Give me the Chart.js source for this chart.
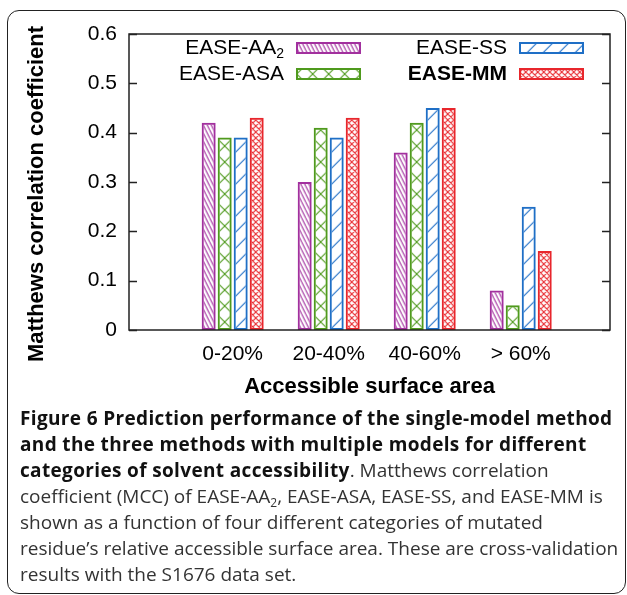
<!DOCTYPE html>
<html>
<head>
<meta charset="utf-8">
<script src="https://cdn.jsdelivr.net/npm/chart.js@4.4.1/dist/chart.umd.min.js"></script>
<style>
    html, body { margin: 0; padding: 0; background: #fff; }
    body { width: 627px; height: 595px; position: relative; overflow: hidden; }
    #frame {
        position: absolute; left: 7px; top: 10px; width: 619px; height: 584px;
        box-sizing: border-box; border: 1.5px solid #222; border-radius: 12px;
    }
    #chart-box { position: absolute; left: 0; top: 0; width: 627px; height: 410px; }
    #caption {
        position: absolute; left: 20px; top: 405px; white-space: nowrap;
        font-family: "Open Sans", sans-serif; font-size: 19px; line-height: 26px; color: #333;
    }
    #caption b { color: #111; letter-spacing: 0.35px; }
    #caption sub { font-size: 12px; line-height: 0; vertical-align: -4px; }
</style>
</head>
<body>
<div id="frame"></div>
<div id="chart-box"><canvas id="chart"></canvas></div>
<div id="caption">
    <b>Figure 6 Prediction performance of the single-model method</b><br>
    <b>and the three methods with multiple models for different</b><br>
    <b>categories of solvent accessibility</b>. Matthews correlation<br>
    coefficient (MCC) of EASE-AA<sub>2</sub>, EASE-ASA, EASE-SS, and EASE-MM is<br>
    shown as a function of four different categories of mutated<br>
    residue’s relative accessible surface area. These are cross-validation<br>
    results with the S1676 data set.
</div>

<script>
// Dados
const categories = ['0-20%', '20-40%', '40-60%', '> 60%'];
const methodNames = ['EASE-AA_2', 'EASE-ASA', 'EASE-SS', 'EASE-MM'];
const easeAA2 = [0.42, 0.30, 0.36, 0.08];
const easeASA = [0.39, 0.41, 0.42, 0.05];
const easeSS = [0.39, 0.39, 0.45, 0.25];
const easeMM = [0.43, 0.43, 0.45, 0.16];
const yTicks = [0, 0.1, 0.2, 0.3, 0.4, 0.5, 0.6];

const FONT = "'Liberation Sans', Arial, sans-serif";

// Padrões de preenchimento (hachuras)
function makePattern(color, w, h, draw) {
    const c = document.createElement('canvas');
    c.width = w;
    c.height = h;
    const g = c.getContext('2d');
    g.strokeStyle = color;
    g.lineWidth = 1.1;
    g.beginPath();
    draw(g, w, h);
    g.stroke();
    return g.createPattern(c, 'repeat');
}

function backDiag(g, w, h) {
    for (let k = -1; k <= 1; k++) {
        g.moveTo(k * w, 0);
        g.lineTo(k * w + w, h);
    }
}

function fwdDiag(g, w, h) {
    for (let k = -1; k <= 1; k++) {
        g.moveTo(k * w, h);
        g.lineTo(k * w + w, 0);
    }
}

function cross(g, w, h) {
    backDiag(g, w, h);
    fwdDiag(g, w, h);
}

const colors = ['#a2309e', '#4f9a1d', '#1f6fc6', '#e8262c'];
const patterns = [
    makePattern(colors[0], 4, 8, backDiag),
    makePattern(colors[1], 16, 16, cross),
    makePattern(colors[2], 16, 16, fwdDiag),
    makePattern(colors[3], 6, 6, cross)
];
const seriesList = [easeAA2, easeASA, easeSS, easeMM];

// Alinha as hachuras com a borda esquerda das barras
const patternAlign = {
    id: 'patternAlign',
    beforeDatasetsDraw(chart) {
        chart.data.datasets.forEach((ds, i) => {
            const el = chart.getDatasetMeta(i).data[0];
            if (!el) return;
            const left = el.x - el.width / 2;
            const shift = (i === 1) ? el.x - 8 : left;
            ds.backgroundColor.setTransform(new DOMMatrix().translate(shift, chart.chartArea.bottom));
        });
    }
};

// Moldura, marcas internas, títulos e legenda
const decorations = {
    id: 'decorations',
    afterDraw(chart) {
        const ctx = chart.ctx;
        const area = chart.chartArea;
        const y = chart.scales.y;
        ctx.save();

        ctx.strokeStyle = '#222';
        ctx.lineWidth = 1.5;
        ctx.strokeRect(area.left, area.top, area.right - area.left, area.bottom - area.top);
        ctx.beginPath();
        yTicks.forEach(v => {
            const py = Math.round(y.getPixelForValue(v)) + 0.5;
            ctx.moveTo(area.left, py);
            ctx.lineTo(area.left + 8, py);
            ctx.moveTo(area.right, py);
            ctx.lineTo(area.right - 8, py);
        });
        ctx.stroke();

        ctx.fillStyle = '#000';
        ctx.font = 'bold 22px ' + FONT;
        ctx.textAlign = 'center';
        ctx.textBaseline = 'middle';
        ctx.fillText('Accessible surface area', (area.left + area.right) / 2, 387);

        ctx.save();
        ctx.translate(37, 194);
        ctx.rotate(-Math.PI / 2);
        ctx.fillText('Matthews correlation coefficient', 0, 0);
        ctx.restore();

        // Legenda em duas colunas
        const textRight = [284, 507];
        const boxLeft = [297, 520];
        const rowY = [48, 74];
        chart.data.datasets.forEach((ds, i) => {
            const col = Math.floor(i / 2);
            const row = i % 2;
            const parts = ds.label.split('_');
            const bold = ds.label === 'EASE-MM';
            ctx.textAlign = 'right';
            ctx.textBaseline = 'middle';
            ctx.fillStyle = '#000';
            let xr = textRight[col];
            if (parts[1]) {
                ctx.font = '14px ' + FONT;
                ctx.fillText(parts[1], xr, rowY[row] + 6);
                xr -= ctx.measureText(parts[1]).width;
            }
            ctx.font = (bold ? 'bold ' : '') + '21px ' + FONT;
            ctx.fillText(parts[0], xr, rowY[row]);

            const bx = boxLeft[col];
            const by = rowY[row] - 5;
            ctx.fillStyle = ds.backgroundColor;
            ctx.fillRect(bx, by, 63, 10);
            ctx.strokeStyle = ds.borderColor;
            ctx.lineWidth = 2;
            ctx.strokeRect(bx, by, 63, 10);
        });

        ctx.restore();
    }
};

new Chart(document.getElementById('chart'), {
    type: 'bar',
    data: {
        datasets: methodNames.map((name, i) => ({
            label: name,
            data: seriesList[i].map((v, j) => ({ x: j, y: v })),
            backgroundColor: patterns[i],
            borderColor: colors[i],
            borderWidth: 2,
            borderSkipped: false,
            categoryPercentage: 0.667,
            barPercentage: 0.875
        }))
    },
    options: {
        responsive: true,
        maintainAspectRatio: false,
        animation: false,
        layout: { padding: { left: 0, top: 34, right: 17, bottom: 8 } },
        plugins: {
            legend: { display: false },
            tooltip: { enabled: false }
        },
        scales: {
            x: {
                type: 'linear',
                min: -1.08,
                max: 3.93,
                offset: false,
                grid: { display: false, drawTicks: false },
                border: { display: false },
                afterBuildTicks(scale) {
                    scale.ticks = categories.map((c, i) => ({ value: i }));
                },
                afterFit(scale) { scale.height = 72; },
                ticks: {
                    padding: 12,
                    color: '#000',
                    font: { family: FONT, size: 21 },
                    callback: value => categories[value]
                }
            },
            y: {
                min: 0,
                max: 0.6,
                grid: { display: false, drawTicks: false },
                border: { display: false },
                afterBuildTicks(scale) {
                    scale.ticks = yTicks.map(v => ({ value: v }));
                },
                afterFit(scale) { scale.width = 129; },
                ticks: {
                    padding: 12,
                    color: '#000',
                    font: { family: FONT, size: 21 },
                    callback: value => value === 0 ? '0' : value.toFixed(1)
                }
            }
        }
    },
    plugins: [patternAlign, decorations]
});
</script>
</body>
</html>
